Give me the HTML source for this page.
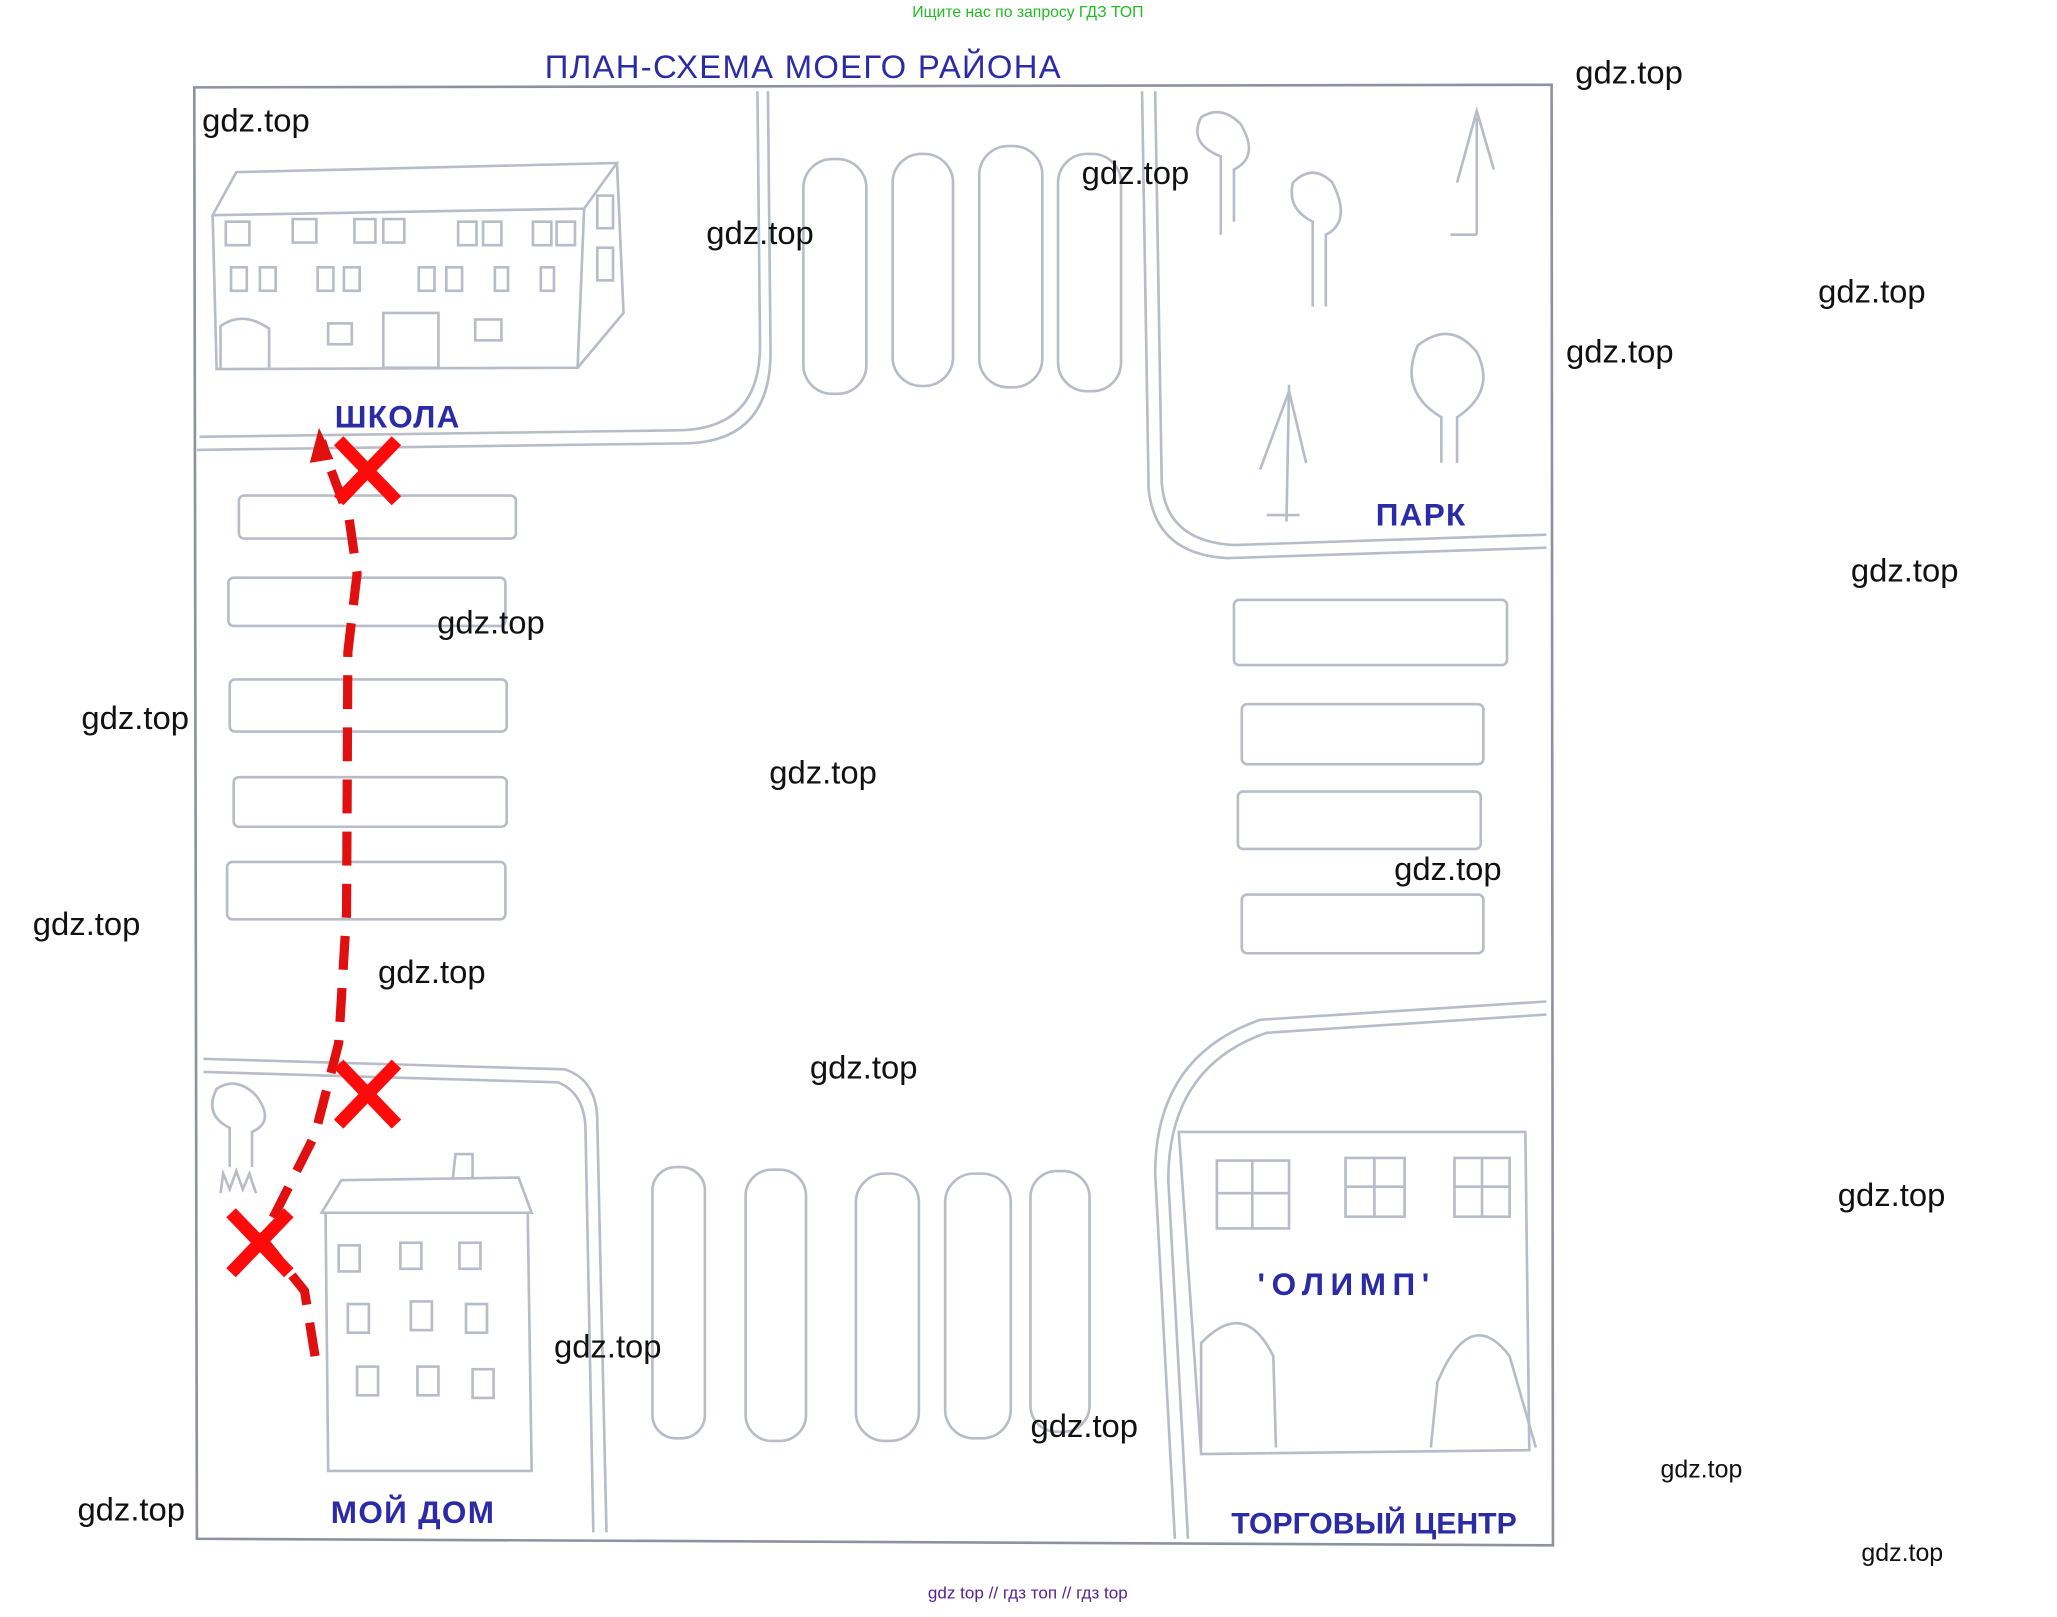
<!DOCTYPE html>
<html><head><meta charset="utf-8"><style>
html,body{margin:0;padding:0;background:#fff;width:2057px;height:1617px;overflow:hidden}
svg{display:block}
.w{font-family:"Liberation Sans",sans-serif;font-size:25px;fill:#111}
.b{font-family:"Liberation Sans","Noto Sans CJK SC",sans-serif;font-size:24px;fill:#2b2ba8;font-weight:bold;letter-spacing:1px}
.l{fill:none;stroke:#b8bcc8;stroke-width:2}
</style></head><body>
<svg width="2057" height="1617" viewBox="0 0 1567 1240" preserveAspectRatio="none" xmlns="http://www.w3.org/2000/svg">
<text x="783" y="13" text-anchor="middle" font-family="Liberation Sans,sans-serif" font-size="12" fill="#22bb22">Ищите нас по запросу ГДЗ ТОП</text>
<text x="612" y="60" text-anchor="middle" class="b" style="font-weight:normal;font-size:25px;letter-spacing:1px">ПЛАН-СХЕМА  МОЕГО  РАЙОНА</text>
<!-- border -->
<path class="l" style="stroke:#8e92a0" d="M148,67 L1182,65 L1183,1185 L150,1180 Z"/>
<!-- roads -->
<path class="l" d="M585,70 L587,270 Q587,340 520,340 L150,345"/>
<path class="l" d="M577,70 L579,265 Q579,330 515,330 L152,335"/>
<path class="l" d="M880,70 L885,370 Q888,415 940,418 L1178,410"/>
<path class="l" d="M870,70 L875,375 Q880,425 935,428 L1178,420"/>
<path class="l" d="M155,812 L430,820 Q455,828 455,860 L462,1175"/>
<path class="l" d="M155,822 L425,830 Q445,838 446,865 L452,1175"/>
<path class="l" d="M1178,768 L960,782 Q880,810 880,900 L895,1180"/>
<path class="l" d="M1178,778 L965,792 Q890,818 890,905 L905,1180"/>
<g class="l">
<rect x="612" y="122" width="48" height="180" rx="22"/><rect x="680" y="118" width="46" height="178" rx="22"/><rect x="746" y="112" width="48" height="185" rx="22"/><rect x="806" y="118" width="48" height="182" rx="22"/>
<rect x="182" y="380" width="211" height="33" rx="4"/><rect x="174" y="443" width="211" height="37" rx="4"/><rect x="175" y="521" width="211" height="40" rx="4"/><rect x="178" y="596" width="208" height="38" rx="4"/><rect x="173" y="661" width="212" height="44" rx="4"/>
<rect x="940" y="460" width="208" height="50" rx="4"/><rect x="946" y="540" width="184" height="46" rx="4"/><rect x="943" y="607" width="185" height="44" rx="4"/><rect x="946" y="686" width="184" height="45" rx="4"/>
<rect x="497" y="895" width="40" height="208" rx="18"/><rect x="568" y="897" width="46" height="208" rx="20"/><rect x="652" y="900" width="48" height="205" rx="22"/><rect x="720" y="900" width="50" height="203" rx="22"/><rect x="785" y="898" width="45" height="200" rx="20"/>
</g>
<g class="l">
<path d="M162,165 L180,132 L470,125 L445,160 Z"/><path d="M162,165 L165,283 L440,282 L445,160"/><path d="M470,125 L475,240 L440,282"/>
<rect x="172" y="170" width="18" height="18"/><rect x="223" y="168" width="18" height="18"/><rect x="270" y="168" width="16" height="18"/><rect x="292" y="168" width="16" height="18"/><rect x="349" y="170" width="14" height="18"/><rect x="368" y="170" width="14" height="18"/><rect x="406" y="170" width="14" height="18"/><rect x="424" y="170" width="14" height="18"/>
<rect x="176" y="205" width="12" height="18"/><rect x="198" y="205" width="12" height="18"/><rect x="242" y="205" width="12" height="18"/><rect x="262" y="205" width="12" height="18"/><rect x="319" y="205" width="12" height="18"/><rect x="340" y="205" width="12" height="18"/><rect x="377" y="205" width="10" height="18"/><rect x="412" y="205" width="10" height="18"/>
<path d="M168,283 L168,250 Q185,238 205,252 L205,283"/><rect x="292" y="240" width="42" height="42"/><rect x="250" y="248" width="18" height="16"/><rect x="362" y="245" width="20" height="16"/>
<rect x="455" y="150" width="12" height="25"/><rect x="455" y="190" width="12" height="25"/>
</g>
<text x="255" y="328" class="b">ШКОЛА</text>
<g class="l">
<path d="M930,180 L930,120 Q905,110 915,90 Q930,80 945,95 Q960,120 940,130 L940,170"/>
<path d="M1000,235 L1000,170 Q980,160 985,140 Q1000,125 1015,140 Q1030,170 1010,180 L1010,235"/>
<path d="M1098,355 L1098,320 Q1065,300 1080,265 Q1105,245 1125,270 Q1140,300 1110,320 L1110,355"/>
<path d="M1125,180 L1125,90 M1110,140 L1125,85 L1138,130 M1105,180 L1125,180"/>
<path d="M980,400 L982,295 M960,360 L982,300 L995,355 M965,395 L990,395"/>
</g>
<text x="1048" y="403" class="b">ПАРК</text>
<g class="l">
<path d="M245,930 L260,905 L395,903 L405,930 Z"/><path d="M248,930 L250,1128 L405,1128 L402,930"/>
<path d="M345,903 L347,885 L360,885 L360,903"/>
<rect x="258" y="955" width="16" height="20"/><rect x="305" y="953" width="16" height="20"/><rect x="350" y="953" width="16" height="20"/>
<rect x="265" y="1000" width="16" height="22"/><rect x="313" y="998" width="16" height="22"/><rect x="355" y="1000" width="16" height="22"/>
<rect x="272" y="1048" width="16" height="22"/><rect x="318" y="1048" width="16" height="22"/><rect x="360" y="1050" width="16" height="22"/>
<path d="M175,895 L175,865 Q155,855 165,835 Q180,825 195,840 Q210,860 192,868 L192,895"/><path d="M168,915 L170,900 L175,912 L180,898 L185,912 L190,900 L195,915"/>
</g>
<text x="252" y="1168" class="b">МОЙ  ДОМ</text>
<g class="l">
<path d="M898,868 L1162,868 L1165,1112 L915,1115 Z"/>
<path d="M927,890 h55 v52 h-55 z M954,890 v52 M927,915 h55"/><path d="M1025,888 h45 v45 h-45 z M1047,888 v45 M1025,910 h45"/><path d="M1108,888 h42 v45 h-42 z M1129,888 v45 M1108,910 h42"/>
<path d="M915,1110 L915,1030 Q948,995 970,1040 L972,1110"/><path d="M1090,1110 L1095,1060 Q1120,1000 1150,1040 L1170,1110"/>
</g>
<text x="958" y="993" class="b" style="letter-spacing:5px">'ОЛИМП'</text>
<text x="938" y="1176" class="b" style="font-size:23px;letter-spacing:0">ТОРГОВЫЙ ЦЕНТР</text>
<path d="M240,1040 L232,990 L200,950 L240,870 L258,800 L264,700 L265,500 L272,440 L266,398 L252,360 L245,338" fill="none" stroke="#e01010" stroke-width="7" stroke-dasharray="26,14"/>
<path d="M243,328 L236,355 L254,352 Z" fill="#e01010"/>
<g stroke="#ff0a0a" stroke-width="10">
<path d="M258,338 L302,384 M302,338 L258,384"/>
<path d="M258,816 L302,862 M302,816 L258,862"/>
<path d="M176,930 L220,976 M220,930 L176,976"/>
</g>
<g class="w">
<text x="1200" y="64">gdz.top</text><text x="154" y="101">gdz.top</text><text x="824" y="141">gdz.top</text><text x="538" y="187">gdz.top</text>
<text x="1385" y="232">gdz.top</text><text x="1193" y="278">gdz.top</text><text x="1410" y="446">gdz.top</text><text x="333" y="486">gdz.top</text>
<text x="62" y="559">gdz.top</text><text x="586" y="601">gdz.top</text><text x="1062" y="675">gdz.top</text><text x="25" y="717">gdz.top</text>
<text x="288" y="754">gdz.top</text><text x="617" y="827">gdz.top</text><text x="1400" y="925">gdz.top</text><text x="422" y="1041">gdz.top</text>
<text x="785" y="1102">gdz.top</text><text x="59" y="1166">gdz.top</text>
<text x="1265" y="1133" style="font-size:19px">gdz.top</text><text x="1418" y="1197" style="font-size:19px">gdz.top</text>
</g>
<text x="783" y="1226" text-anchor="middle" font-family="Liberation Sans,sans-serif" font-size="13" fill="#552299">gdz top  //  гдз топ  //  гдз top</text>
</svg>
</body></html>
